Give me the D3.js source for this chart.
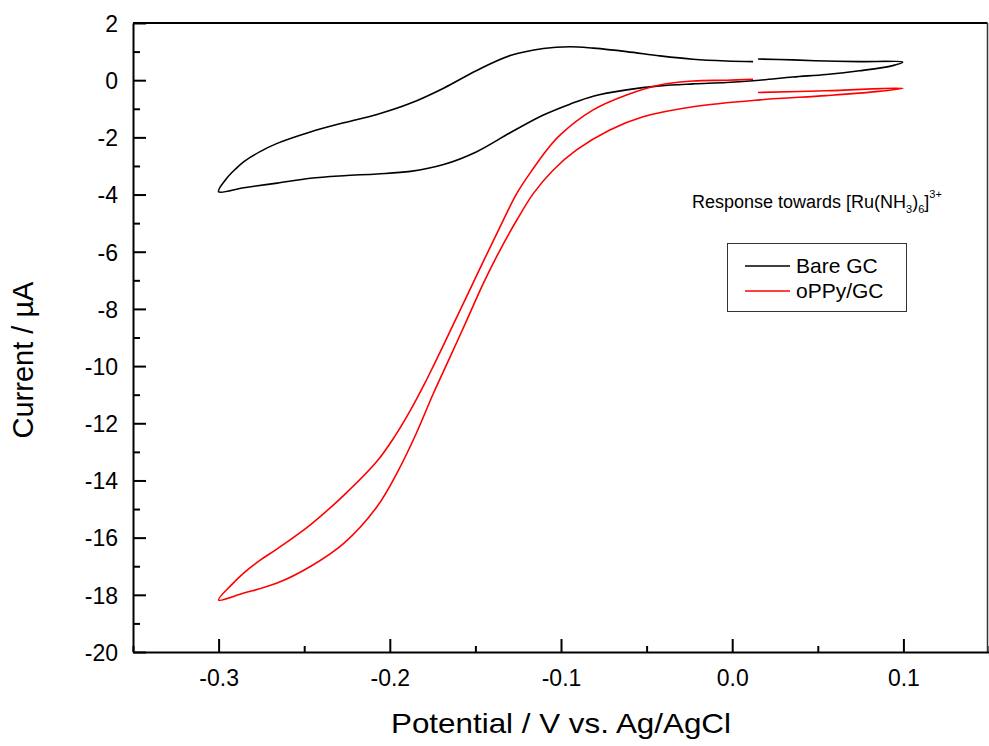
<!DOCTYPE html>
<html lang="en">
<head>
<meta charset="utf-8">
<script src="https://cdn.jsdelivr.net/npm/d3@7"></script>
<style>
  body { margin: 0; background: #fff; }
  svg text { font-family: "Liberation Sans", Arial, sans-serif; }
</style>
</head>
<body>
<svg id="cv"></svg>
<script type="text/javascript">
// cyclic voltammograms, [potential V, current uA] in scan order
const bareGC = [
  [0.0151, 0.74], [0.0355, 0.71], [0.0549, 0.67], [0.0743, 0.65], [0.0996, 0.63],
  [0.0938, 0.51], [0.0743, 0.33], [0.0549, 0.20], [0.0355, 0.11], [0.016, 0.0],
  [-0.0034, -0.08], [-0.0229, -0.13], [-0.0423, -0.20], [-0.0617, -0.34], [-0.0812, -0.56],
  [-0.0948, -0.84], [-0.1103, -1.22], [-0.1297, -1.84], [-0.1492, -2.50], [-0.1686, -2.95],
  [-0.188, -3.19], [-0.2075, -3.28], [-0.2269, -3.34], [-0.2464, -3.43], [-0.2658, -3.60],
  [-0.2852, -3.76], [-0.300, -3.90],
  [-0.2955, -3.45], [-0.2900, -3.10], [-0.2852, -2.85], [-0.2758, -2.50], [-0.2658, -2.21],
  [-0.2464, -1.81], [-0.2269, -1.49], [-0.2075, -1.20],
  [-0.188, -0.81], [-0.1686, -0.28], [-0.1492, 0.34], [-0.1297, 0.86], [-0.1103, 1.11],
  [-0.0948, 1.17], [-0.0812, 1.12], [-0.0617, 1.00], [-0.0423, 0.85], [-0.0229, 0.73],
  [-0.0034, 0.67], [0.0122, 0.65]
];
const oPPyGC = [
  [0.0151, -0.43], [0.0549, -0.37], [0.0996, -0.28],
  [0.084, -0.40], [0.0549, -0.54], [0.016, -0.69], [-0.0229, -0.93], [-0.052, -1.28],
  [-0.0715, -1.74], [-0.0909, -2.44], [-0.1045, -3.14], [-0.1161, -3.96], [-0.1258, -4.89],
  [-0.1356, -5.94], [-0.1453, -7.10], [-0.155, -8.39], [-0.1647, -9.67], [-0.1745, -10.95],
  [-0.1845, -12.35], [-0.195, -13.65], [-0.2075, -14.92], [-0.2269, -16.20], [-0.2464, -17.01],
  [-0.2658, -17.59], [-0.2852, -17.94], [-0.300, -18.18],
  [-0.2926, -17.66], [-0.2852, -17.23], [-0.2755, -16.78], [-0.2658, -16.39], [-0.2464, -15.55],
  [-0.2269, -14.52], [-0.2075, -13.33],
  [-0.197, -12.45], [-0.188, -11.55], [-0.1793, -10.57], [-0.1745, -9.99], [-0.1647, -8.77],
  [-0.155, -7.55], [-0.1453, -6.33], [-0.1356, -5.13], [-0.1258, -3.96], [-0.1161, -3.08],
  [-0.1083, -2.44], [-0.1006, -1.92],
  [-0.0812, -1.04], [-0.0617, -0.52], [-0.0423, -0.17], [-0.0229, -0.03], [-0.0034, 0.0],
  [0.0122, 0.03]
];

const xTicks = [-0.3, -0.2, -0.1, 0.0, 0.1];
const xMinorTicks = [-0.35, -0.25, -0.15, -0.05, 0.05, 0.15];
const yTicks = [2, 0, -2, -4, -6, -8, -10, -12, -14, -16, -18, -20];
const yMinorTicks = [1, -1, -3, -5, -7, -9, -11, -13, -15, -17, -19];
const seriesNames = ["Bare GC", "oPPy/GC"];
const seriesColors = ["#000000", "#ff0000"];

const width = 989, height = 746;
const plotLeft = 133, plotRight = 989, plotTop = 23, plotBottom = 652;

const svg = d3.select('#cv')
    .attr('width', width)
    .attr('height', height);

const x = d3.scaleLinear().domain([-0.35, 0.15]).range([plotLeft, plotRight]);
const y = d3.scaleLinear().domain([-20, 2]).range([plotBottom, plotTop]);

// frame (top + right)
svg.append('line').attr('x1', plotLeft).attr('x2', plotRight - 1.5).attr('y1', plotTop).attr('y2', plotTop)
    .attr('stroke', '#000').attr('stroke-width', 2);
svg.append('line').attr('x1', plotRight - 1.5).attr('x2', plotRight - 1.5).attr('y1', plotTop).attr('y2', plotBottom)
    .attr('stroke', '#333').attr('stroke-width', 1.5);

// minor ticks first, then major axes with labels
svg.append('g').attr('transform', `translate(0,${plotBottom})`)
    .call(d3.axisBottom(x).tickValues(xMinorTicks).tickSize(-6).tickFormat(''))
    .call(g => g.select('.domain').remove());
svg.append('g').attr('transform', `translate(${plotLeft},0)`)
    .call(d3.axisLeft(y).tickValues(yMinorTicks).tickSize(-7).tickFormat(''))
    .call(g => g.select('.domain').remove());

const xAxis = svg.append('g').attr('transform', `translate(0,${plotBottom})`)
    .call(d3.axisBottom(x).tickValues(xTicks).tickSize(-13).tickSizeOuter(0)
        .tickPadding(34).tickFormat(d => d.toFixed(1)));
const yAxis = svg.append('g').attr('transform', `translate(${plotLeft},0)`)
    .call(d3.axisLeft(y).tickValues(yTicks).tickSize(-13).tickSizeOuter(0)
        .tickPadding(15).tickFormat(d => String(d)));

[xAxis, yAxis].forEach(g => {
  g.select('.domain').attr('stroke-width', 2);
  g.selectAll('.tick text').attr('font-size', 23).attr('fill', '#000')
      .attr('font-family', '"Liberation Sans", Arial, sans-serif');
});
svg.selectAll('.tick line').attr('stroke-width', 2);
xAxis.selectAll('.tick text').attr('dy', 0);
yAxis.selectAll('.tick text').attr('dy', '0.36em');

// axis titles
svg.append('text').attr('x', 561).attr('y', 733).attr('text-anchor', 'middle')
    .attr('font-size', 28).attr('textLength', 340).attr('lengthAdjust', 'spacingAndGlyphs')
    .text('Potential / V vs. Ag/AgCl');
svg.append('text').attr('transform', 'translate(33,360) rotate(-90)')
    .attr('text-anchor', 'middle').attr('font-size', 29).text('Current / µA');

// curves
const line = d3.line()
    .x(d => x(d[0])).y(d => y(d[1]))
    .curve(d3.curveCatmullRom.alpha(0.5));

[bareGC, oPPyGC].forEach((data, i) => {
  svg.append('path').datum(data)
      .attr('d', line)
      .attr('fill', 'none')
      .attr('stroke', seriesColors[i])
      .attr('stroke-width', 1.6)
      .attr('stroke-linejoin', 'round');
});

// annotation
const note = svg.append('text').attr('x', 692).attr('y', 208).attr('font-size', 18);
note.append('tspan').text('Response towards [Ru(NH');
note.append('tspan').attr('font-size', 11).attr('dy', 5).text('3');
note.append('tspan').attr('dy', -5).text(')');
note.append('tspan').attr('font-size', 11).attr('dy', 5).text('6');
note.append('tspan').attr('dy', -5).text(']');
note.append('tspan').attr('font-size', 11).attr('dy', -10).text('3+');

// legend
const legend = svg.append('g');
legend.append('rect').attr('x', 727.5).attr('y', 243.5).attr('width', 179).attr('height', 68)
    .attr('fill', '#fff').attr('stroke', '#333').attr('stroke-width', 1);
seriesNames.forEach((name, i) => {
  const ly = 266 + i * 25;
  legend.append('line').attr('x1', 745).attr('x2', 790).attr('y1', ly).attr('y2', ly)
      .attr('stroke', seriesColors[i]).attr('stroke-width', 1.6);
  legend.append('text').attr('x', 796).attr('y', ly + 7).attr('font-size', 21).text(name);
});
</script>
</body>
</html>
